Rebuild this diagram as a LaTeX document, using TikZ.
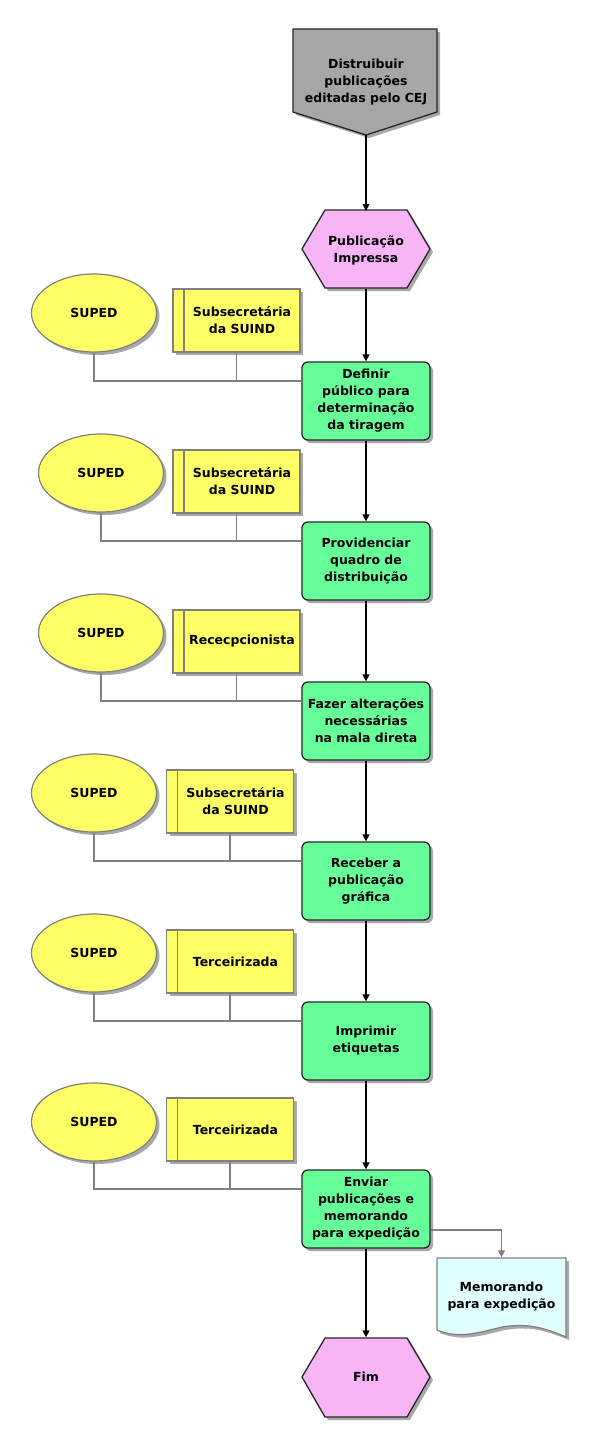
\documentclass[tikz,border=0pt]{standalone}
\usepackage{fontspec}
\setmainfont{DejaVu Sans}
\usetikzlibrary{shadows,arrows.meta,shapes.geometric}
\definecolor{procgreen}{HTML}{66FF99}
\definecolor{orgyellow}{HTML}{FFFF66}
\definecolor{evpink}{HTML}{F7B5F5}
\definecolor{evgrey}{HTML}{A6A6A6}
\definecolor{memocyan}{HTML}{E0FFFF}
\definecolor{linegrey}{HTML}{808080}
\definecolor{shadowgrey}{HTML}{A8A8A8}
\begin{document}
\begin{tikzpicture}[x=1pt,y=-1pt,
  txt/.style={font=\fontsize{12.5}{17}\selectfont\bfseries, align=center, inner sep=0pt},
  myshadow/.style={drop shadow={shadow xshift=3pt, shadow yshift=-3pt, fill=shadowgrey, opacity=1}},
  proc/.style={txt, draw=black!85, line width=1.3pt, fill=procgreen, rounded corners=6pt,
    minimum width=128pt, minimum height=78pt, myshadow},
  unit/.style={txt, draw=linegrey, line width=1.2pt, fill=orgyellow, ellipse,
    minimum width=125pt, minimum height=78pt, myshadow},
  role/.style={txt, draw=linegrey, line width=1.2pt, fill=orgyellow,
    minimum width=127pt, minimum height=63pt, myshadow,
    path picture={\draw[linegrey, line width=1.2pt]
      ([xshift=11pt]path picture bounding box.north west) --
      ([xshift=11pt]path picture bounding box.south west);}},
  ghost/.style={txt, inner sep=0pt},
  flow/.style={line width=1.5pt, black, -{Triangle[length=7pt,width=7pt]}},
  conn/.style={line width=1.5pt, linegrey},
  gflow/.style={line width=1.5pt, linegrey, -{Triangle[length=7pt,width=7pt]}}
]
\useasboundingbox (0,0) rectangle (597,1449);
\fill[white] (0,0) rectangle (597,1449);

% start event (pentagon)
\fill[shadowgrey] (296,32) -- (440,32) -- (440,115) -- (369,138) -- (296,115) -- cycle;
\draw[black!85, line width=1.3pt, fill=evgrey] (293,29) -- (437,29) -- (437,112) -- (366,135) -- (293,112) -- cycle;
\node[ghost, minimum width=144pt, minimum height=106pt] (start) at (366,82)
  {Distruibuir\\publicações\\editadas pelo CEJ};

% Publicação Impressa hexagon
\fill[shadowgrey] (305,252) -- (328,213) -- (410,213) -- (433,252) -- (410,291) -- (328,291) -- cycle;
\draw[black!85, line width=1.3pt, fill=evpink] (302,249) -- (325,210) -- (407,210) -- (430,249) -- (407,288) -- (325,288) -- cycle;
\node[ghost, minimum width=128pt, minimum height=78pt] (pub) at (366,250) {Publicação\\Impressa};

% process boxes
\node[proc] (b1) at (366,401) {Definir\\público para\\determinação\\da tiragem};
\node[proc] (b2) at (366,561) {Providenciar\\quadro de\\distribuição};
\node[proc] (b3) at (366,721) {Fazer alterações\\necessárias\\na mala direta};
\node[proc] (b4) at (366,881) {Receber a\\publicação\\gráfica};
\node[proc] (b5) at (366,1041) {Imprimir\\etiquetas};
\node[proc] (b6) at (366,1209) {Enviar\\publicações e\\memorando\\para expedição};

% Fim hexagon
\fill[shadowgrey] (305,1380) -- (328,1341) -- (410,1341) -- (433,1380) -- (410,1420) -- (328,1420) -- cycle;
\draw[black!85, line width=1.3pt, fill=evpink] (302,1377) -- (325,1338) -- (407,1338) -- (430,1377) -- (407,1417) -- (325,1417) -- cycle;
\node[ghost, minimum width=128pt, minimum height=79pt] (fim) at (366,1377) {Fim};

% memorando document
\fill[shadowgrey] (440,1261) -- (569,1261) -- (569,1340)
  .. controls (545,1330) and (530,1326) .. (505,1330)
  .. controls (480,1336) and (462,1342) .. (440,1333) -- cycle;
\draw[linegrey, line width=1.2pt, fill=memocyan] (437,1258) -- (566,1258) -- (566,1337)
  .. controls (542,1327) and (527,1323) .. (502,1327)
  .. controls (477,1333) and (459,1339) .. (437,1330) -- cycle;
\node[ghost, minimum width=129pt, minimum height=79pt] (memo) at (501.5,1297) {Memorando\\para expedição};

% organisational units and roles
\node[unit] (e1) at (94,313) {SUPED};
\node[role] (r1) at (236.5,320.5) {\hspace*{11pt}Subsecretária\\\hspace*{11pt}da SUIND};
\node[unit] (e2) at (101,473) {SUPED};
\node[role] (r2) at (236.5,481.5) {\hspace*{11pt}Subsecretária\\\hspace*{11pt}da SUIND};
\node[unit] (e3) at (101,633) {SUPED};
\node[role] (r3) at (236.5,641.5) {\hspace*{11pt}Rececpcionista};
\node[unit] (e4) at (94,793) {SUPED};
\node[role] (r4) at (230,801.5) {\hspace*{11pt}Subsecretária\\\hspace*{11pt}da SUIND};
\node[unit] (e5) at (94,953) {SUPED};
\node[role] (r5) at (230,961.5) {\hspace*{11pt}Terceirizada};
\node[unit] (e6) at (94,1122) {SUPED};
\node[role] (r6) at (230,1129.5) {\hspace*{11pt}Terceirizada};

% grey assignment connectors
\foreach \i in {1,...,6}{
  \coordinate (l\i) at ([yshift=20pt]b\i.west);
  \draw[conn] (e\i.south) |- (l\i);
  \draw[conn] (r\i.south) -- (r\i.south |- l\i);
}

% main flow
\draw[flow] (start) -- (pub);
\draw[flow] (pub) -- (b1);
\draw[flow] (b1) -- (b2);
\draw[flow] (b2) -- (b3);
\draw[flow] (b3) -- (b4);
\draw[flow] (b4) -- (b5);
\draw[flow] (b5) -- (b6);
\draw[flow] (b6) -- (fim);
\draw[gflow] ([yshift=-21pt]b6.east) -| (memo.north);
\end{tikzpicture}
\end{document}
